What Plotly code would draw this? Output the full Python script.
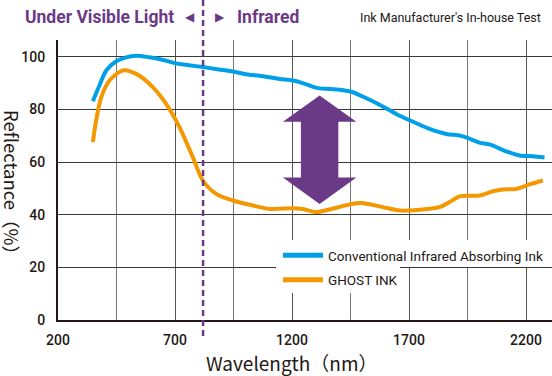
import plotly.graph_objects as go

# ---- data ----
conv_x = [349, 377, 406, 449, 491, 534, 591, 650, 698, 760, 819, 880, 947, 1018, 1061, 1147, 1200, 1246, 1290, 1318, 1360, 1403, 1450, 1502, 1574, 1645, 1700, 1788, 1859, 1916, 1950, 2001, 2044, 2115, 2172, 2229, 2279]
conv_y = [83.1, 89.1, 94.8, 98.3, 99.8, 100.4, 99.8, 98.8, 97.6, 96.8, 96.1, 95.3, 94.4, 93.2, 92.8, 91.6, 91.1, 90.0, 88.6, 88.0, 87.8, 87.5, 86.8, 84.9, 81.8, 78.3, 76.0, 72.6, 70.7, 70.1, 69.2, 67.4, 66.7, 64.1, 62.5, 62.2, 61.7]

ghost_x = [349, 363, 385, 420, 477, 534, 605, 662, 719, 776, 819, 876, 947, 1033, 1104, 1197, 1246, 1303, 1360, 1446, 1503, 1588, 1660, 1745, 1830, 1873, 1916, 2001, 2058, 2101, 2158, 2215, 2272]
ghost_y = [67.6, 75.8, 84.7, 91.0, 94.8, 93.5, 88.5, 82.1, 73.3, 61.9, 53.0, 47.9, 45.4, 43.5, 42.2, 42.5, 42.2, 41.0, 42.0, 43.9, 44.4, 42.9, 41.6, 41.9, 42.9, 44.8, 47.0, 47.3, 48.9, 49.6, 49.8, 51.5, 53.0]

series_names = ["Conventional Infrared Absorbing Ink", "GHOST INK"]
x_ticks = [200, 700, 1200, 1700, 2200]
y_ticks = [0, 20, 40, 60, 80, 100]
boundary_nm = [820]          # visible / infrared boundary
arrow_nm = [1318]            # difference arrow position
arrow_span = [85.3, 44.1]    # arrow top / bottom (reflectance %)

# ---- style ----
BLUE = "#00a0e9"
ORANGE = "#f39800"
PURPLE = "#6b3a87"
TXT = "#231815"
SANS = "Roboto, Liberation Sans, sans-serif"
JP = "Noto Sans CJK JP, Noto Sans, sans-serif"

W, H = 552, 376
ML, MR, MT, MB = 58, 0, 40, 56
PW, PH = W - ML - MR, H - MT - MB


def px(xp):
    return (xp - ML) / PW


def py(yp):
    return (H - MB - yp) / PH


fig = go.Figure()
fig.add_trace(go.Scatter(x=conv_x, y=conv_y, mode="lines", name=series_names[0], legendgroup="a",
                         line=dict(color=BLUE, width=4, shape="spline", smoothing=0.8)))
fig.add_trace(go.Scatter(x=ghost_x, y=ghost_y, mode="lines", name=series_names[1], legendgroup="b",
                         line=dict(color=ORANGE, width=4, shape="spline", smoothing=0.8)))

# white backing behind legend text (as in original)
fig.add_shape(type="rect", xref="paper", yref="paper", x0=px(276), x1=px(552), y0=py(267), y1=py(240),
              fillcolor="white", line_width=0, layer="above")
fig.add_shape(type="rect", xref="paper", yref="paper", x0=px(276), x1=px(400), y0=py(293), y1=py(267),
              fillcolor="white", line_width=0, layer="above")

# boundary dashed line
fig.add_shape(type="line", xref="x", yref="paper", x0=boundary_nm[0], x1=boundary_nm[0],
              y0=py(336), y1=py(0), line=dict(color=PURPLE, width=2.5, dash="6px,4px"), layer="above")

# double arrow
ax = arrow_nm[0]
top, bot = arrow_span
hw, sw, hh = 157, 80, 10
path = (f"M{ax},{top} L{ax+hw},{top-hh} L{ax+sw},{top-hh} L{ax+sw},{bot+hh} L{ax+hw},{bot+hh} "
        f"L{ax},{bot} L{ax-hw},{bot+hh} L{ax-sw},{bot+hh} L{ax-sw},{top-hh} L{ax-hw},{top-hh} Z")
fig.add_shape(type="path", xref="x", yref="y", path=path, fillcolor=PURPLE, line_width=0, layer="above")

# header texts
fig.add_annotation(xref="paper", yref="paper", x=px(176), y=py(17), xanchor="right", yanchor="middle",
                   text="<b>Under Visible Light</b>", showarrow=False,
                   font=dict(family=SANS, size=17.5, color=PURPLE))
fig.add_annotation(xref="paper", yref="paper", x=px(190), y=py(17), xanchor="center", yanchor="middle",
                   text="◀", showarrow=False, font=dict(family="DejaVu Sans", size=12, color=PURPLE))
fig.add_annotation(xref="paper", yref="paper", x=px(220), y=py(17), xanchor="center", yanchor="middle",
                   text="▶", showarrow=False, font=dict(family="DejaVu Sans", size=12, color=PURPLE))
fig.add_annotation(xref="paper", yref="paper", x=px(235), y=py(17), xanchor="left", yanchor="middle",
                   text="<b>Infrared</b>", showarrow=False,
                   font=dict(family=SANS, size=17.5, color=PURPLE))
fig.add_annotation(xref="paper", yref="paper", x=px(543), y=py(17), xanchor="right", yanchor="middle",
                   text="Ink Manufacturer's In-house Test", showarrow=False,
                   font=dict(family=SANS, size=12.5, color=TXT))

# axis titles
fig.add_annotation(xref="paper", yref="paper", x=px(292), y=py(362), xanchor="center", yanchor="middle",
                   text="Wavelength（nm）", showarrow=False, font=dict(family=JP, size=19, color=TXT))
fig.add_annotation(xref="paper", yref="paper", x=px(12), y=py(187), xanchor="center", yanchor="middle",
                   text="Reflectance（%）", textangle=90, showarrow=False,
                   font=dict(family=JP, size=18.5, color=TXT))

fig.update_xaxes(range=[200, 200 + PW / 117 * 500], tickvals=x_ticks, ticktext=[str(v) for v in x_ticks],
                 showgrid=True, gridcolor="#555555", gridwidth=1,
                 minor=dict(tickvals=[450, 950, 1450, 1950], showgrid=True, gridcolor="#777777", gridwidth=1),
                 showline=True, linecolor="#231815", linewidth=2, ticks="", zeroline=False,
                 tickfont=dict(family=SANS, size=14, color=TXT, weight=500),
                 ticklabelstandoff=6)
fig.update_yaxes(range=[0, PH / 2.632], tickvals=y_ticks, ticktext=[str(v) for v in y_ticks],
                 showgrid=True, gridcolor="#3a3a3a", gridwidth=1,
                 showline=True, linecolor="#231815", linewidth=2, ticks="", zeroline=False,
                 tickfont=dict(family=SANS, size=14, color=TXT, weight=500),
                 ticklabelstandoff=8)

fig.update_layout(
    width=W, height=H, margin=dict(l=ML, r=MR, t=MT, b=MB),
    paper_bgcolor="white", plot_bgcolor="white",
    showlegend=True,
    legend=dict(x=px(278), y=py(240), xanchor="left", yanchor="top", bgcolor="rgba(0,0,0,0)",
                font=dict(family=SANS, size=13.5, color=TXT), itemwidth=40, tracegroupgap=4,
                itemsizing="constant"),
)

fig.write_html("out.html", config={"displayModeBar": False},
               post_script="document.body.style.margin='0px';")
